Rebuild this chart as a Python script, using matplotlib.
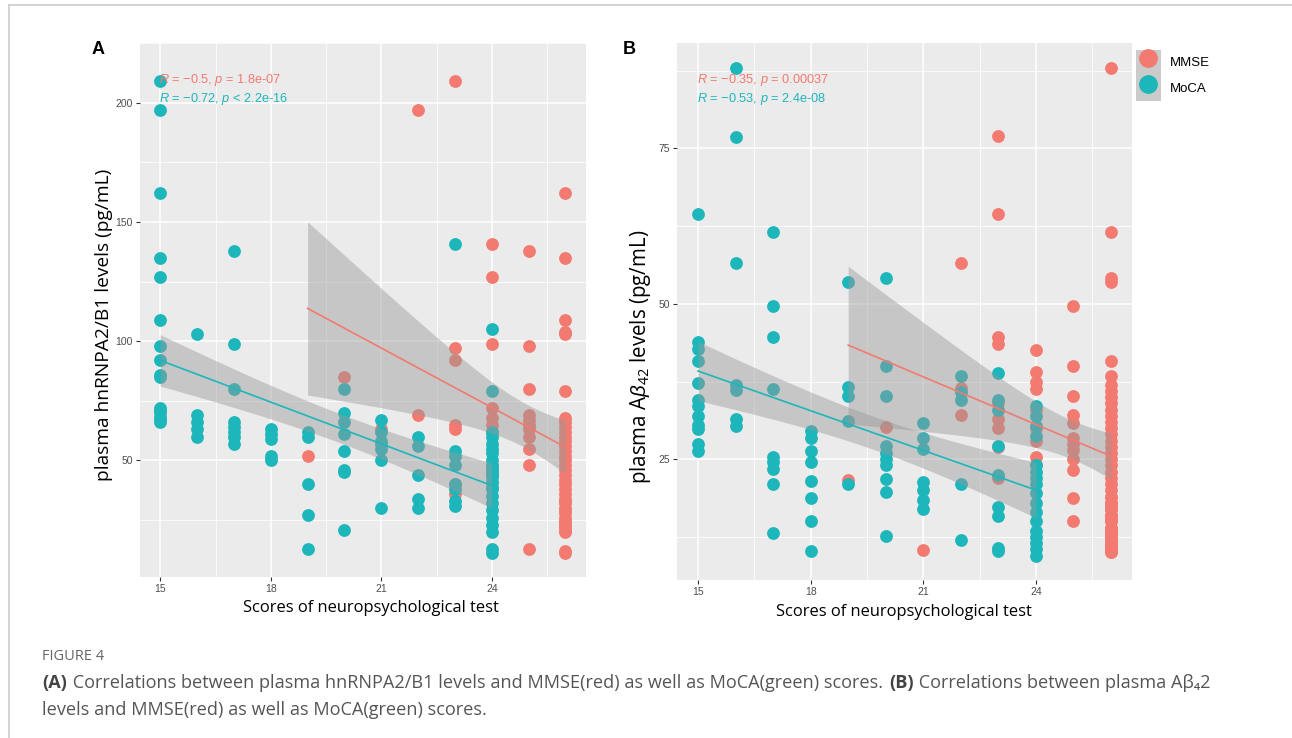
"""
Figure 4 重绘：血浆 hnRNPA2/B1、Aβ42 水平与 MMSE / MoCA 评分的相关性
"""

import numpy as np
import matplotlib
matplotlib.use("Agg")
import matplotlib.pyplot as plt
from matplotlib.lines import Line2D
from matplotlib.patches import Patch

plt.rcParams['font.family'] = ['Liberation Sans', 'DejaVu Sans']
plt.rcParams['mathtext.fontset'] = 'custom'
plt.rcParams['mathtext.rm'] = 'Open Sans'
plt.rcParams['mathtext.it'] = 'Liberation Sans:italic'

# ==================== 数据 ====================
# Panel A: hnRNPA2/B1 (pg/mL)
a_mmse_x = [19, 20, 21, 22, 22,
            23, 23, 23, 23, 23, 23, 23,
            24, 24, 24, 24, 24, 24, 24, 24,
            25, 25, 25, 25, 25, 25, 25, 25, 25, 25, 25] + [26] * 38
a_mmse_y = [52, 85, 63, 197, 69,
            209, 97, 92, 65, 63, 40, 36,
            141, 127, 99, 72, 68, 65, 62, 46,
            138, 98, 80, 69, 67, 65, 63, 60, 55, 48, 13,
            162, 135, 109, 104, 103, 79, 68, 66, 64, 62, 60, 58, 56, 54, 52,
            50, 48, 46, 44, 42, 40, 38, 36, 34, 32, 30, 28, 26, 24, 22, 20,
            21, 25, 29, 33, 23, 12, 11]

a_moca_x = [15] * 16 + [16] * 5 + [17] * 8 + [18] * 5 + [19] * 5 + [20] * 8 \
    + [21] * 7 + [22] * 5 + [23] * 8 + [24] * 24
a_moca_y = [209, 197, 162, 135, 127, 109, 98, 92, 86, 85, 72, 71, 70, 68, 68, 66,
            103, 69, 66, 63, 60,
            138, 99, 80, 66, 64, 62, 60, 57,
            63, 61, 59, 52, 50,
            62, 60, 40, 27, 13,
            80, 70, 66, 61, 54, 46, 45, 21,
            67, 62, 58, 57, 55, 50, 30,
            60, 56, 44, 34, 30,
            141, 54, 52, 48, 40, 38, 33, 31,
            105, 79, 62, 60, 57, 55, 53, 50, 48, 47, 45, 44, 43, 41, 39, 38,
            35, 32, 29, 26, 23, 20, 13, 11]

# Panel B: Aβ42 (pg/mL)
b_mmse_x = [19, 20, 21, 22, 22, 22] + [23] * 9 + [24] * 9 + [25] * 12 + [26] * 51
b_mmse_y = [21.7, 30.2, 10.4, 56.5, 36.5, 32.1,
            77, 64.4, 44.6, 43.5, 34, 31.5, 30, 27, 22,
            42.5, 39, 37.5, 36.3, 33, 30, 28, 25.3, 24,
            49.6, 40, 35.2, 32.1, 30.9, 28.5, 27.5, 26.5, 25, 23.2, 18.7, 15.1,
            88, 61.6, 54.1, 53.5, 40.8, 38.4, 37, 36, 35, 34, 33, 32, 31, 30,
            29, 28, 27, 26, 25, 24, 23, 22, 21, 20, 19, 18, 17, 16, 15, 14,
            13, 12.5, 12, 11, 10.5, 10,
            10, 11, 12, 13, 14, 15, 16, 17, 18, 19, 11.5, 13.5, 15.5, 17.5, 10.5]

b_moca_x = [15] * 12 + [16] * 7 + [17] * 9 + [18] * 8 + [19] * 5 + [20] * 10 \
    + [21] * 7 + [22] * 5 + [23] * 9 + [24] * 17
b_moca_y = [64.4, 43.8, 42.7, 40.8, 37.3, 34.6, 33.5, 32, 30.5, 29.8, 27.4, 26.3,
            88, 76.8, 56.6, 36.9, 36.1, 31.4, 30.3,
            61.6, 49.6, 44.6, 36.3, 25.3, 24.5, 23.4, 21.1, 13.2,
            29.6, 28.5, 26.3, 24.5, 21.5, 18.7, 15, 10.3,
            53.6, 36.6, 35.1, 31.2, 21,
            54.1, 40, 35.2, 27.2, 26, 25, 24, 21.9, 19.8, 12.7,
            30.9, 28.5, 26.6, 21.3, 20, 18.5, 17,
            38.4, 35.8, 34.6, 21.1, 12,
            38.8, 34.5, 33, 27.2, 22.5, 17.3, 15.9, 10.8, 10.2,
            33.6, 32, 30.4, 28.7, 24, 23, 22, 21, 19.5, 18, 16.5, 15,
            13.5, 12.5, 11.5, 10.5, 9.5]

a_labels = [r"$\mathit{R}$ = −0.5, $\mathit{p}$ = 1.8e-07",
            r"$\mathit{R}$ = −0.72, $\mathit{p}$ < 2.2e-16"]
b_labels = [r"$\mathit{R}$ = −0.35, $\mathit{p}$ = 0.00037",
            r"$\mathit{R}$ = −0.53, $\mathit{p}$ = 2.4e-08"]

x_ticks = [15, 18, 21, 24]
a_yticks = [50, 100, 150, 200]
b_yticks = [25, 50, 75]

RED = '#F27A70'
TEAL = '#1DB6BA'
PANEL = '#EBEBEB'


def add_smooth(ax, x, y, color):
    # 线性回归 + 95% 置信带（同 geom_smooth(method='lm')）
    x = np.asarray(x, float)
    y = np.asarray(y, float)
    n = len(x)
    b, a = np.polyfit(x, y, 1)
    xs = np.linspace(x.min(), x.max(), 100)
    yhat = a + b * xs
    s = np.sqrt(np.sum((y - (a + b * x)) ** 2) / (n - 2))
    se = s * np.sqrt(1 / n + (xs - x.mean()) ** 2 / np.sum((x - x.mean()) ** 2))
    t = 1.99
    ax.fill_between(xs, yhat - t * se, yhat + t * se, color='#999999',
                    alpha=0.45, lw=0, zorder=3)
    ax.plot(xs, yhat, color=color, lw=1.2, zorder=4)


def style_panel(ax, yticks, allvals):
    ax.set_facecolor(PANEL)
    for sp in ax.spines.values():
        sp.set_visible(False)
    ax.set_xlim(14.45, 26.55)
    lo, hi = min(allvals), max(allvals)
    pad = (hi - lo) * 0.05
    ax.set_ylim(lo - pad, hi + pad)
    ax.set_xticks(x_ticks)
    ax.set_yticks(yticks)
    ax.set_xticks([16.5, 19.5, 22.5, 25.5], minor=True)
    step = yticks[1] - yticks[0]
    ax.set_yticks([v - step / 2 for v in yticks] + [yticks[-1] + step / 2], minor=True)
    ax.grid(True, which='major', color='white', lw=1.1, zorder=0)
    ax.grid(True, which='minor', color='white', lw=0.55, zorder=0)
    ax.set_axisbelow(True)
    ax.tick_params(which='major', length=3, width=0.8, color='#333333',
                   labelsize=7.5, labelcolor='#4D4D4D', pad=2)
    ax.tick_params(which='minor', length=0)


fig = plt.figure(figsize=(12.92, 7.38), dpi=100)
axA = fig.add_axes([140 / 1292, 1 - 577 / 738, 445.7 / 1292, 533.7 / 738])
axB = fig.add_axes([677.3 / 1292, 1 - 580 / 738, 454.4 / 1292, 536.7 / 738])

panels = [
    (axA, a_mmse_x, a_mmse_y, a_moca_x, a_moca_y, a_yticks, a_labels,
     "plasma hnRNPA2/B1 levels (pg/mL)", 13.8, "A", 92,
     (-0.061, 0.472), (0.518, -0.043)),
    (axB, b_mmse_x, b_mmse_y, b_moca_x, b_moca_y, b_yticks, b_labels,
     r"plasma A$\beta_{42}$ levels (pg/mL)", 14.8, "B", 623,
     (-0.0535, 0.415), (0.499, -0.045)),
]

for ax, mx, my, cx, cy, yt, labs, ylab, yfs, tag, tag_x, ylab_xy, xlab_xy in panels:
    ax.scatter(mx, my, s=85, color=RED, lw=0, zorder=2)
    ax.scatter(cx, cy, s=85, color=TEAL, lw=0, zorder=2)
    add_smooth(ax, mx, my, RED)
    add_smooth(ax, cx, cy, TEAL)
    style_panel(ax, yt, list(my) + list(cy))
    ax.text(0.0435, 0.931, labs[0], transform=ax.transAxes, color=RED,
            fontsize=9.2, va='center', ha='left', zorder=6)
    ax.text(0.0435, 0.896, labs[1], transform=ax.transAxes, color=TEAL,
            fontsize=9.2, va='center', ha='left', zorder=6)
    ax.set_xlabel("Scores of neuropsychological test", family='Open Sans',
                  fontsize=11.9, color='black')
    ax.set_ylabel(ylab, family='Open Sans', fontsize=yfs, color='black')
    ax.yaxis.set_label_coords(*ylab_xy)
    ax.xaxis.set_label_coords(*xlab_xy)
    fig.text(tag_x / 1292, 1 - 49.5 / 738, tag, fontsize=13,
             fontweight='bold', ha='left', va='center')

# 图例
handles = [(Patch(facecolor='#CBCBCB', edgecolor='none'),
            Line2D([], [], marker='o', ls='', ms=12.5, color=RED)),
           (Patch(facecolor='#CBCBCB', edgecolor='none'),
            Line2D([], [], marker='o', ls='', ms=12.5, color=TEAL))]
fig.legend(handles, ['MMSE', 'MoCA'], loc='upper left',
           bbox_to_anchor=(1133 / 1292, 1 - 47 / 738), frameon=False,
           handlelength=1.9, handleheight=2.6, labelspacing=0.0,
           handletextpad=0.7, borderpad=0.2, borderaxespad=0.0, fontsize=9.5)

# 外框线
fig.add_artist(Line2D([9 / 1292, 1], [1 - 5 / 738, 1 - 5 / 738],
                      color='#CCCCCC', lw=1.2, transform=fig.transFigure))
fig.add_artist(Line2D([9 / 1292, 9 / 1292], [0, 1 - 5 / 738],
                      color='#CCCCCC', lw=1.2, transform=fig.transFigure))

# 图注
fig.text(42 / 1292, 1 - 656 / 738, "FIGURE 4", family='Open Sans', fontsize=10.5,
         color='#666666', va='center')

renderer = fig.canvas.get_renderer()


def caption_line(parts, x_px, y_px):
    x = x_px
    for txt, bold in parts:
        t = fig.text(x / 1292, 1 - y_px / 738, txt,
                     family=['Open Sans', 'DejaVu Sans'], fontsize=13.05,
                     fontweight='bold' if bold else 'normal',
                     color='#444444' if bold else '#555555', va='center')
        x = t.get_window_extent(renderer).x1 + 1


caption_line([("(A)", True),
              (" Correlations between plasma hnRNPA2/B1 levels and MMSE(red) as well as MoCA(green) scores. ", False),
              ("(B)", True),
              (" Correlations between plasma Aβ₄2", False)], 42, 683)
caption_line([("levels and MMSE(red) as well as MoCA(green) scores.", False)], 42, 710)

fig.savefig('out.png', dpi=100)
